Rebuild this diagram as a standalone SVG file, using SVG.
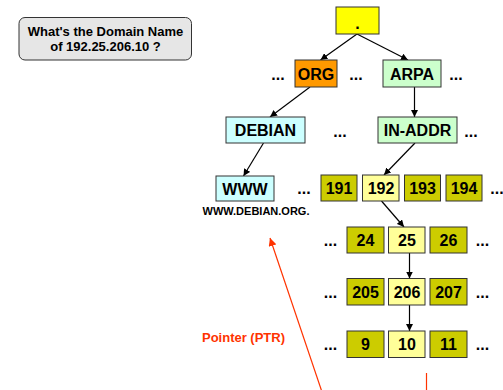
<svg xmlns="http://www.w3.org/2000/svg" width="503" height="390" viewBox="0 0 503 390">
<style>
text{font-family:"Liberation Sans",Arial,sans-serif;font-weight:bold;text-anchor:middle}
.b{stroke:#333;stroke-width:1}
.t{font-size:16px;fill:#000}
.d{font-size:16px;fill:#000}
.yel{fill:#ffff00}.org{fill:#ff9900}.grn{fill:#ccffcc}.cyn{fill:#ccffff}.ol{fill:#cccc00}.ly{fill:#ffff99}
.c{stroke:#000;stroke-width:1.2;fill:none;marker-end:url(#ah)}
.r{stroke:#ff3300;stroke-width:1.2;fill:none}
</style>
<defs>
<marker id="ah" viewBox="0 0 10 10" refX="10" refY="5" markerWidth="7" markerHeight="7" markerUnits="userSpaceOnUse" orient="auto"><path d="M0,0 L10,5 L0,10 z" fill="#000"/></marker>
<marker id="rh" viewBox="0 0 10 10" refX="10" refY="5" markerWidth="8" markerHeight="8" markerUnits="userSpaceOnUse" orient="auto"><path d="M0,0 L10,5 L0,10 z" fill="#ff3300"/></marker>
</defs>
<rect width="503" height="390" fill="#fff"/>
<g id="question">
<rect x="19" y="17.5" width="172.5" height="42.5" rx="6" fill="#e6e6e6" stroke="#333" stroke-width="1"/>
<text x="105.5" y="36" font-size="13">What's the Domain Name</text>
<text x="105.5" y="50.5" font-size="13">of 192.25.206.10 ?</text>
</g>
<g id="connectors">
<line class="c" x1="357" y1="34" x2="320.5" y2="60"/>
<line class="c" x1="357" y1="34" x2="408" y2="60"/>
<line class="c" x1="310" y1="87" x2="270" y2="117"/>
<line class="c" x1="414.5" y1="87" x2="414.5" y2="117"/>
<line class="c" x1="263.5" y1="143" x2="243.5" y2="176"/>
<line class="c" x1="415" y1="143" x2="384" y2="175"/>
<line class="c" x1="381.5" y1="201" x2="404" y2="227"/>
<line class="c" x1="409.5" y1="253" x2="409.5" y2="278.5"/>
<line class="c" x1="409.5" y1="305" x2="409.5" y2="331"/>
<line class="r" x1="322" y1="392" x2="270" y2="238" marker-end="url(#rh)"/>
<line class="r" x1="426.5" y1="373" x2="426.5" y2="392"/>
</g>
<g id="root"><rect class="b yel" x="336" y="7" width="43" height="27"/><text class="t" x="357.5" y="29">.</text></g>
<g id="org"><rect class="b org" x="295" y="60" width="42" height="27"/><text class="t" x="316" y="79.5">ORG</text></g>
<g id="arpa"><rect class="b grn" x="383" y="60" width="58" height="27"/><text class="t" x="412" y="79.5">ARPA</text></g>
<g id="debian"><rect class="b cyn" x="226" y="117" width="79" height="26"/><text class="t" x="265.5" y="136">DEBIAN</text></g>
<g id="inaddr"><rect class="b grn" x="378" y="117" width="79" height="26"/><text class="t" x="417.5" y="136">IN-ADDR</text></g>
<g id="www"><rect class="b cyn" x="216" y="176" width="58" height="25"/><text class="t" x="245" y="194.5">WWW</text>
<text x="256" y="215" font-size="10" textLength="107" lengthAdjust="spacingAndGlyphs">WWW.DEBIAN.ORG.</text></g>
<g id="n191"><rect class="b ol" x="321" y="175" width="36" height="26"/><text class="t" x="339" y="194">191</text></g>
<g id="n192"><rect class="b ly" x="362.5" y="175" width="36.5" height="26"/><text class="t" x="381" y="194">192</text></g>
<g id="n193"><rect class="b ol" x="404.5" y="175" width="36" height="26"/><text class="t" x="422.5" y="194">193</text></g>
<g id="n194"><rect class="b ol" x="446" y="175" width="36" height="26"/><text class="t" x="464" y="194">194</text></g>
<g id="n24"><rect class="b ol" x="347" y="227" width="37" height="26"/><text class="t" x="365.5" y="246">24</text></g>
<g id="n25"><rect class="b ly" x="388.5" y="227" width="36.5" height="26"/><text class="t" x="407" y="246">25</text></g>
<g id="n26"><rect class="b ol" x="430" y="227" width="37" height="26"/><text class="t" x="448.5" y="246">26</text></g>
<g id="n205"><rect class="b ol" x="347" y="278.5" width="37" height="26.5"/><text class="t" x="365.5" y="297.5">205</text></g>
<g id="n206"><rect class="b ly" x="388.5" y="278.5" width="36.5" height="26.5"/><text class="t" x="407" y="297.5">206</text></g>
<g id="n207"><rect class="b ol" x="430" y="278.5" width="37" height="26.5"/><text class="t" x="448.5" y="297.5">207</text></g>
<g id="n9"><rect class="b ol" x="347" y="331" width="37" height="26.5"/><text class="t" x="365.5" y="350">9</text></g>
<g id="n10"><rect class="b ly" x="388.5" y="331" width="36.5" height="26.5"/><text class="t" x="407" y="350">10</text></g>
<g id="n11"><rect class="b ol" x="430" y="331" width="37" height="26.5"/><text class="t" x="448.5" y="350">11</text></g>
<g id="ellipses">
<text class="d" x="278" y="80">...</text>
<text class="d" x="356" y="80">...</text>
<text class="d" x="456" y="80">...</text>
<text class="d" x="340" y="137">...</text>
<text class="d" x="471" y="137">...</text>
<text class="d" x="304" y="194">...</text>
<text class="d" x="497" y="194">...</text>
<text class="d" x="330.5" y="246">...</text>
<text class="d" x="482.5" y="246">...</text>
<text class="d" x="330.5" y="298">...</text>
<text class="d" x="482.5" y="298">...</text>
<text class="d" x="330.5" y="350">...</text>
<text class="d" x="482.5" y="350">...</text>
</g>
<text x="243.5" y="341.5" font-size="13" fill="#ff3300">Pointer (PTR)</text>
</svg>
